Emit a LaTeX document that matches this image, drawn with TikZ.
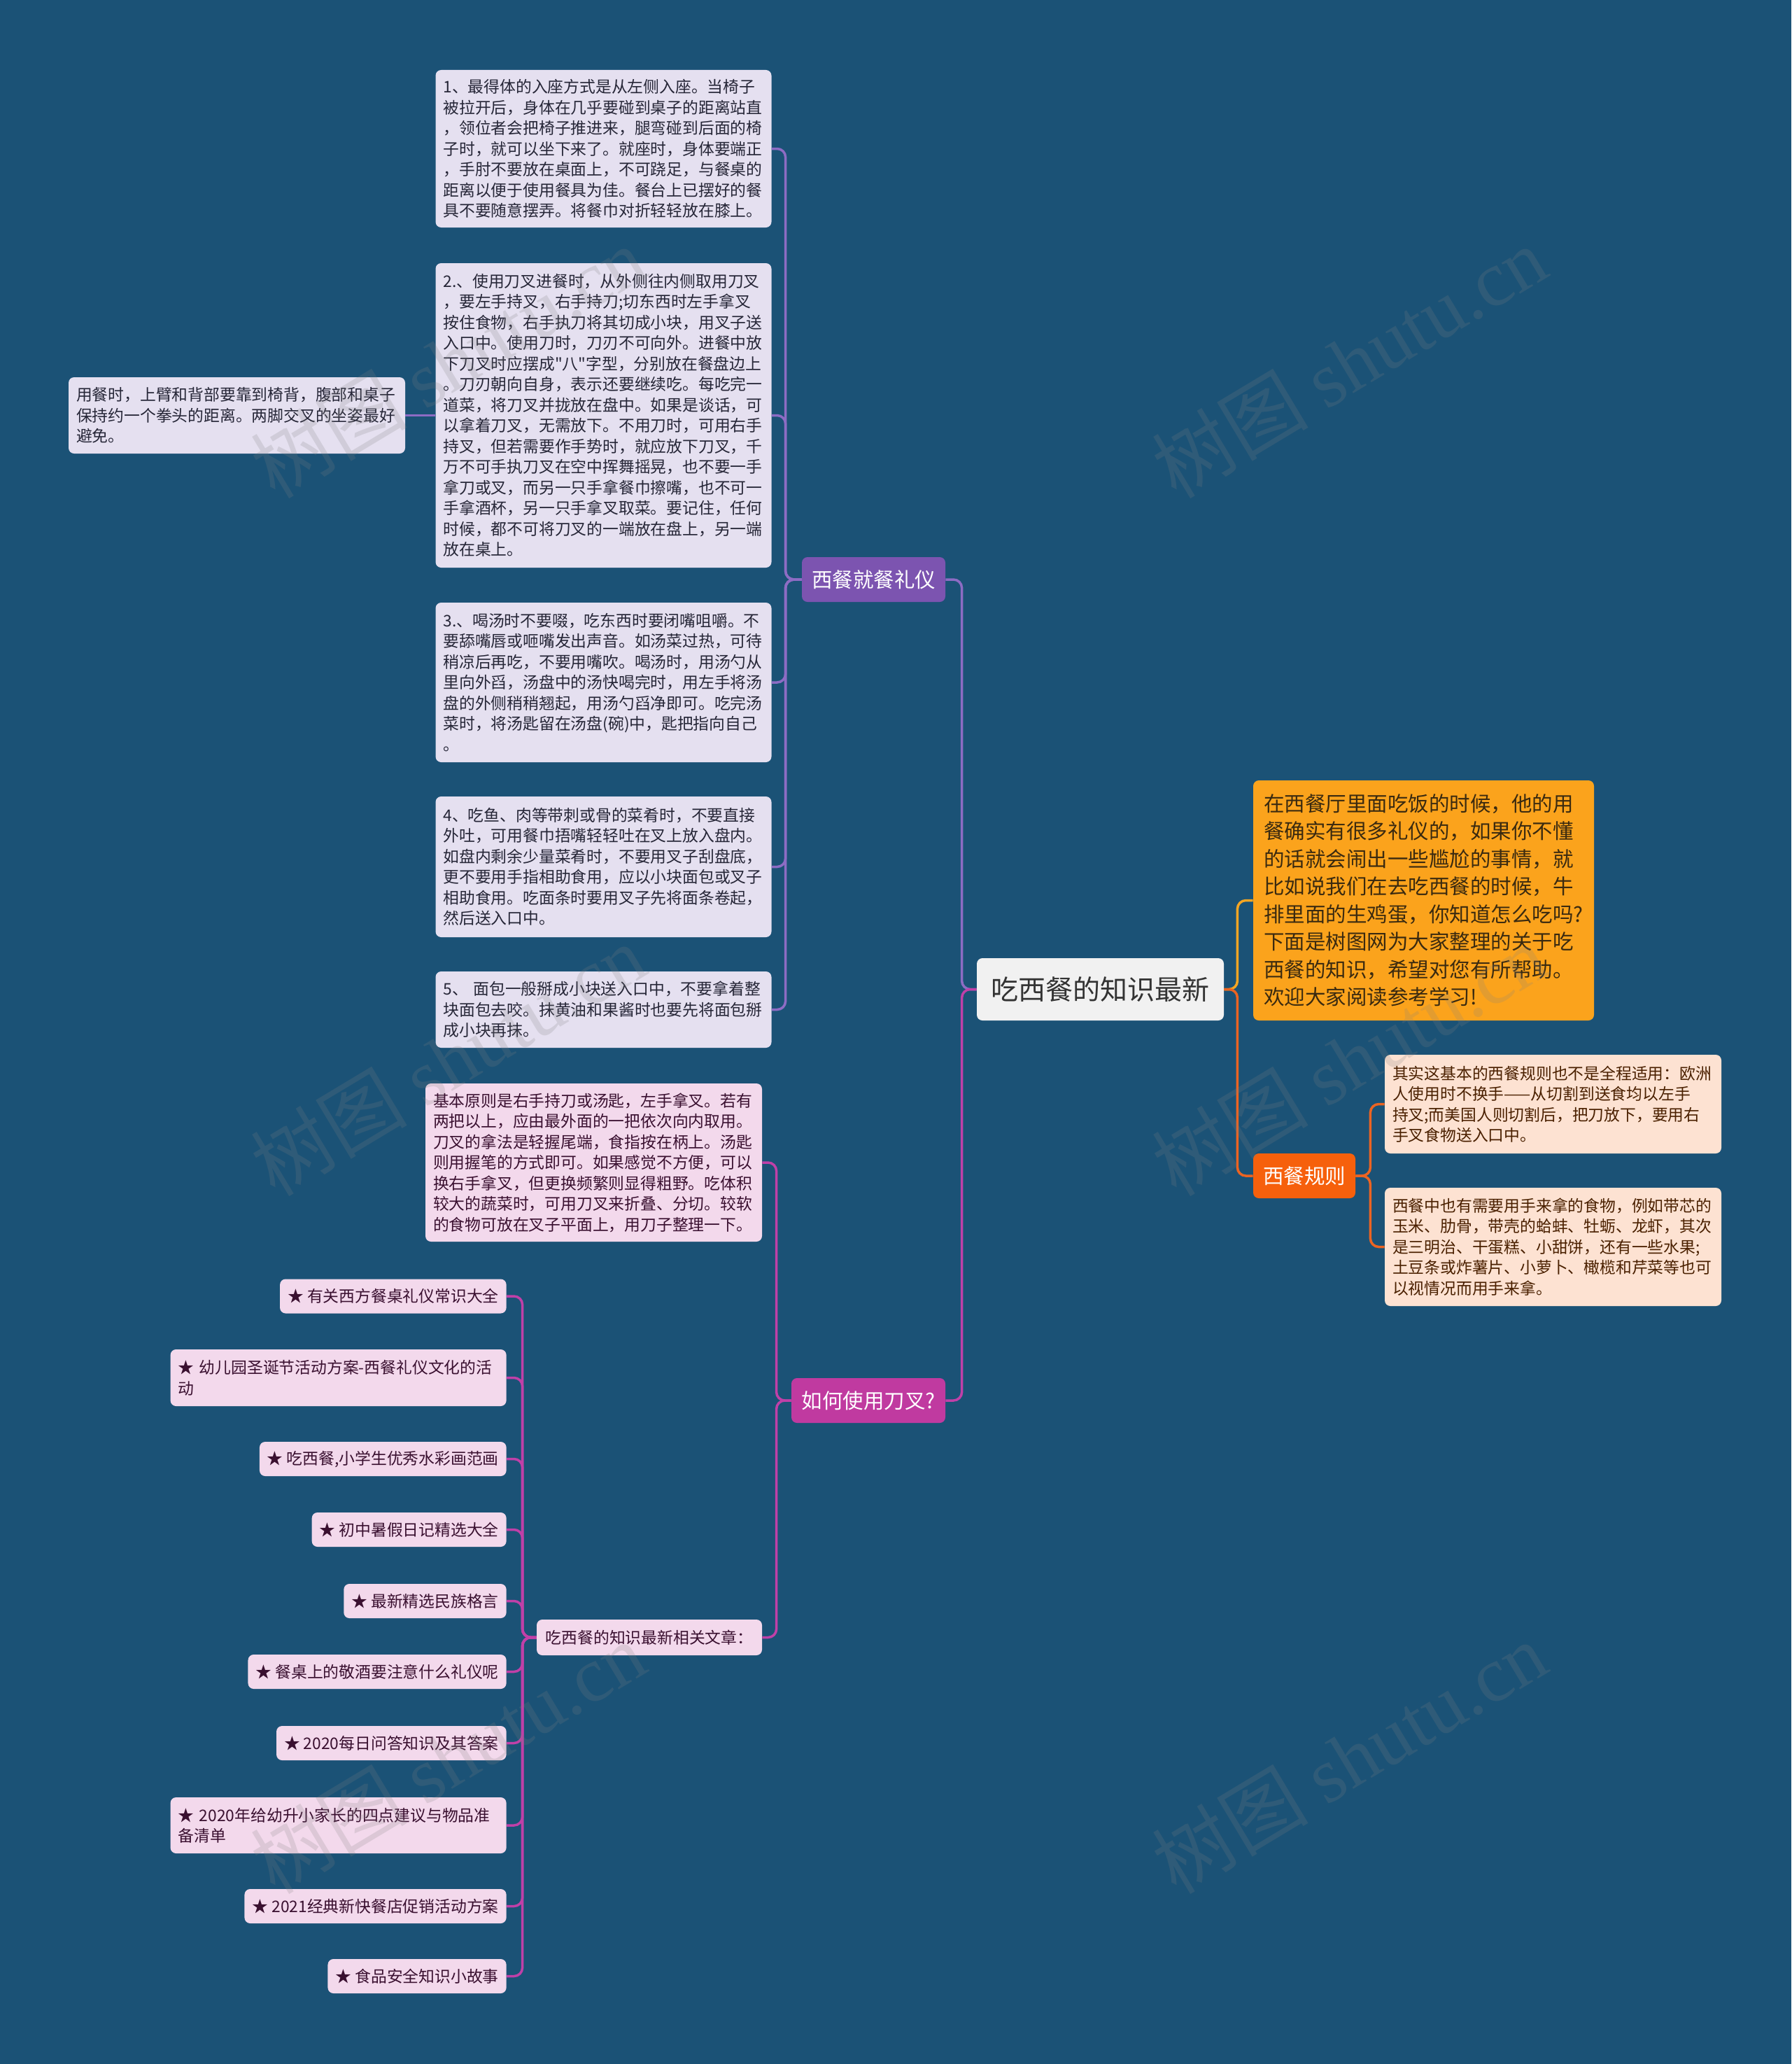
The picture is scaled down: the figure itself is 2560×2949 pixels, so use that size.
\documentclass[tikz,border=0pt]{standalone}
\usepackage{fontspec}
\setmainfont[Ligatures=TeXOff]{Noto Sans CJK SC}
\newfontfamily\wmfont{Liberation Serif}
\definecolor{bg}{HTML}{1B5276}
\definecolor{lav}{HTML}{E5E0F0}
\definecolor{lavtext}{HTML}{262637}
\definecolor{pinkfill}{HTML}{F3D9EC}
\definecolor{pinktext}{HTML}{3A1030}
\definecolor{peach}{HTML}{FDE2D2}
\definecolor{peachtext}{HTML}{4A2000}
\definecolor{orangefill}{HTML}{FBA31C}
\definecolor{orangetext}{HTML}{3A2A10}
\definecolor{redorange}{HTML}{F6600C}
\definecolor{purplefill}{HTML}{7C54B0}
\definecolor{magentafill}{HTML}{C03AA0}
\definecolor{centerfill}{HTML}{F1F1F1}
\definecolor{cpurple}{HTML}{8D6CC4}
\definecolor{cmagenta}{HTML}{C040A8}
\definecolor{cyellow}{HTML}{F5A623}
\definecolor{cred}{HTML}{EC6422}
\tikzset{
  box/.style={rounded corners=4pt, align=left, inner xsep=5.5pt, inner ysep=0pt},
  small/.style={font=\fontsize{11.4pt}{14.75pt}\selectfont},
  lavbox/.style={box, small, fill=lav, text=lavtext, text width=229pt},
  pinkbox/.style={box, small, fill=pinkfill, text=pinktext},
  peachbox/.style={box, small, fill=peach, text=peachtext, text width=229.5pt},
  branch/.style={rounded corners=4pt, inner sep=0pt, text=white, font=\fontsize{14.75pt}{18pt}\selectfont, minimum height=32pt},
  con/.style={line width=1.75pt, rounded corners=6pt},
  wm/.style={text=gray, text opacity=0.2, font=\fontsize{56pt}{60pt}\selectfont, rotate=31, inner sep=0pt},
}
\begin{document}
\begin{tikzpicture}[x=0.5pt, y=-0.5pt]
\useasboundingbox (0,0) rectangle (2560,2949);
\fill[bg] (0,0) rectangle (2560,2949);

% center
\node[rounded corners=4pt, fill=centerfill, text=black!80, font=\fontsize{19.5pt}{24pt}\selectfont, minimum width=176.5pt, minimum height=44.5pt, inner sep=0pt] (c) at (1572.5,1413.5) {吃西餐的知识最新};

% right side
\node[box, fill=orangefill, text=orangetext, font=\fontsize{14.75pt}{19.75pt}\selectfont, inner xsep=7.5pt, text width=228.5pt, minimum height=171.5pt] (intro) at (2034.5,1286.5) {在西餐厅里面吃饭的时候，他的用\\餐确实有很多礼仪的，如果你不懂\\的话就会闹出一些尴尬的事情，就\\比如说我们在去吃西餐的时候，牛\\排里面的生鸡蛋，你知道怎么吃吗?\\下面是树图网为大家整理的关于吃\\西餐的知识，希望对您有所帮助。\\欢迎大家阅读参考学习!};
\node[branch, fill=redorange, minimum width=73pt] (rule) at (1864,1680) {西餐规则};
\node[peachbox, minimum height=70.5pt] (r1) at (2219.5,1577.5) {其实这基本的西餐规则也不是全程适用：欧洲\\人使用时不换手——从切割到送食均以左手\\持叉;而美国人则切割后，把刀放下，要用右\\手叉食物送入口中。};
\node[peachbox, minimum height=84.5pt] (r2) at (2219.5,1781.5) {西餐中也有需要用手来拿的食物，例如带芯的\\玉米、肋骨，带壳的蛤蚌、牡蛎、龙虾，其次\\是三明治、干蛋糕、小甜饼，还有一些水果;\\土豆条或炸薯片、小萝卜、橄榄和芹菜等也可\\以视情况而用手来拿。};

% left: etiquette branch
\node[branch, fill=purplefill, minimum width=102.5pt] (b1) at (1248.5,828) {西餐就餐礼仪};
\node[lavbox, minimum height=112.5pt] (l1) at (862.5,212.5) {1、最得体的入座方式是从左侧入座。当椅子\\被拉开后，身体在几乎要碰到桌子的距离站直\\，领位者会把椅子推进来，腿弯碰到后面的椅\\子时，就可以坐下来了。就座时，身体要端正\\，手肘不要放在桌面上，不可跷足，与餐桌的\\距离以便于使用餐具为佳。餐台上已摆好的餐\\具不要随意摆弄。将餐巾对折轻轻放在膝上。};
\node[lavbox, minimum height=217.5pt] (l2) at (862.5,593.5) {2.、使用刀叉进餐时，从外侧往内侧取用刀叉\\，要左手持叉，右手持刀;切东西时左手拿叉\\按住食物，右手执刀将其切成小块，用叉子送\\入口中。使用刀时，刀刃不可向外。进餐中放\\下刀叉时应摆成"八"字型，分别放在餐盘边上\\。刀刃朝向自身，表示还要继续吃。每吃完一\\道菜，将刀叉并拢放在盘中。如果是谈话，可\\以拿着刀叉，无需放下。不用刀时，可用右手\\持叉，但若需要作手势时，就应放下刀叉，千\\万不可手执刀叉在空中挥舞摇晃，也不要一手\\拿刀或叉，而另一只手拿餐巾擦嘴，也不可一\\手拿酒杯，另一只手拿叉取菜。要记住，任何\\时候，都不可将刀叉的一端放在盘上，另一端\\放在桌上。};
\node[lavbox, minimum height=114pt] (l3) at (862.5,975) {3.、喝汤时不要啜，吃东西时要闭嘴咀嚼。不\\要舔嘴唇或咂嘴发出声音。如汤菜过热，可待\\稍凉后再吃，不要用嘴吹。喝汤时，用汤勺从\\里向外舀，汤盘中的汤快喝完时，用左手将汤\\盘的外侧稍稍翘起，用汤勺舀净即可。吃完汤\\菜时，将汤匙留在汤盘(碗)中，匙把指向自己\\。};
\node[lavbox, minimum height=100.5pt] (l4) at (862.5,1238.5) {4、吃鱼、肉等带刺或骨的菜肴时，不要直接\\外吐，可用餐巾捂嘴轻轻吐在叉上放入盘内。\\如盘内剩余少量菜肴时，不要用叉子刮盘底，\\更不要用手指相助食用，应以小块面包或叉子\\相助食用。吃面条时要用叉子先将面条卷起，\\然后送入口中。};
\node[lavbox, minimum height=54.5pt] (l5) at (862.5,1442.5) {5、 面包一般掰成小块送入口中，不要拿着整\\块面包去咬。抹黄油和果酱时也要先将面包掰\\成小块再抹。};
\node[lavbox, text width=229.5pt, minimum height=54.5pt] (ch) at (338.5,593.5) {用餐时，上臂和背部要靠到椅背，腹部和桌子\\保持约一个拳头的距离。两脚交叉的坐姿最好\\避免。};

% left: fork branch
\node[branch, fill=magentafill, minimum width=110pt] (b2) at (1241,2001) {如何使用刀叉?};
\node[pinkbox, text width=229.5pt, minimum height=113pt] (a) at (848.5,1661) {基本原则是右手持刀或汤匙，左手拿叉。若有\\两把以上，应由最外面的一把依次向内取用。\\刀叉的拿法是轻握尾端，食指按在柄上。汤匙\\则用握笔的方式即可。如果感觉不方便，可以\\换右手拿叉，但更换频繁则显得粗野。吃体积\\较大的蔬菜时，可用刀叉来折叠、分切。较软\\的食物可放在叉子平面上，用刀子整理一下。};
\node[pinkbox, minimum width=161pt, minimum height=25.5pt] (b) at (928,2339.5) {吃西餐的知识最新相关文章：};

\node[pinkbox, anchor=east, minimum height=24.5pt] (i1) at (724,1852) {★ 有关西方餐桌礼仪常识大全};
\node[pinkbox, anchor=east, text width=229pt, minimum height=40.5pt] (i2) at (724,1968.5) {★ 幼儿园圣诞节活动方案-西餐礼仪文化的活\\动};
\node[pinkbox, anchor=east, minimum height=24.5pt] (i3) at (724,2084.5) {★ 吃西餐,小学生优秀水彩画范画};
\node[pinkbox, anchor=east, minimum height=24.5pt] (i4) at (724,2185.5) {★ 初中暑假日记精选大全};
\node[pinkbox, anchor=east, minimum height=24.5pt] (i5) at (724,2287.5) {★ 最新精选民族格言};
\node[pinkbox, anchor=east, minimum height=24.5pt] (i6) at (724,2388.5) {★ 餐桌上的敬酒要注意什么礼仪呢};
\node[pinkbox, anchor=east, minimum height=24.5pt] (i7) at (724,2490.5) {★ 2020每日问答知识及其答案};
\node[pinkbox, anchor=east, text width=229pt, minimum height=40pt] (i8) at (724,2608) {★ 2020年给幼升小家长的四点建议与物品准\\备清单};
\node[pinkbox, anchor=east, minimum height=24.5pt] (i9) at (724,2723.5) {★ 2021经典新快餐店促销活动方案};
\node[pinkbox, anchor=east, minimum height=24.5pt] (i10) at (724,2823.5) {★ 食品安全知识小故事};

% connectors
\draw[con, draw=cyellow] (c.east) -- ++(19,0) |- (intro.west);
\draw[con, draw=cred] (c.east) -- ++(19,0) |- (rule.west);
\draw[con, draw=cred] (rule.east) -- ++(21,0) |- (r1.west);
\draw[con, draw=cred] (rule.east) -- ++(21,0) |- (r2.west);

\draw[con, draw=cpurple] (c.west) -- ++(-21,0) |- (b1.east);
\draw[con, draw=cmagenta] (c.west) -- ++(-21,0) |- (b2.east);

\foreach \n in {l1,l2,l3,l4,l5}
  \draw[con, draw=cpurple] (b1.west) -- ++(-23,0) |- (\n.east);
\draw[con, draw=cpurple] (l2.west) -- (ch.east);

\draw[con, draw=cmagenta] (b2.west) -- ++(-21,0) |- (a.east);
\draw[con, draw=cmagenta] (b2.west) -- ++(-21,0) |- (b.east);
\foreach \n in {i1,i2,i3,i4,i5,i6,i7,i8,i9,i10}
  \draw[con, draw=cmagenta] (b.west) -- ++(-20,0) |- (\n.east);

% watermarks
\node[wm] (w1) at (640,517) {树图 {\wmfont shutu.cn}};
\node[wm] (w2) at (1928,517) {树图 {\wmfont shutu.cn}};
\node[wm] (w3) at (640,1514) {树图 {\wmfont shutu.cn}};
\node[wm] (w4) at (1928,1514) {树图 {\wmfont shutu.cn}};
\node[wm] (w5) at (640,2511) {树图 {\wmfont shutu.cn}};
\node[wm] (w6) at (1928,2511) {树图 {\wmfont shutu.cn}};
\end{tikzpicture}
\end{document}
